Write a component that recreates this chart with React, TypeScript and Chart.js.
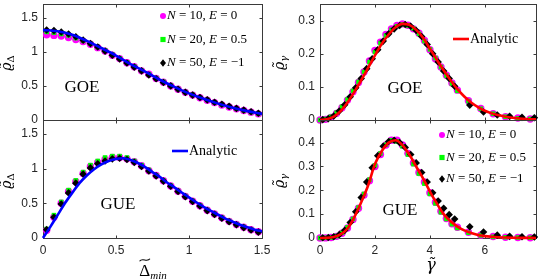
import React, { useEffect, useRef } from "react";
import { Chart, registerables } from "chart.js";

Chart.register(...registerables);

const W = 540;
const H = 280;

// ================= DATA =================
// Left panels: distribution of the smallest spacing (x = Δ̃min)
const deltaBins = [0.025, 0.075, 0.125, 0.175, 0.225, 0.275, 0.325, 0.375, 0.425, 0.475, 0.525, 0.575, 0.625, 0.675, 0.725, 0.775, 0.825, 0.875, 0.925, 0.975, 1.025, 1.075, 1.125, 1.175, 1.225, 1.275, 1.325, 1.375, 1.425, 1.475];

const goeDeltaN10 = [1.25, 1.24, 1.23, 1.21, 1.18, 1.15, 1.11, 1.06, 1.01, 0.95, 0.9, 0.84, 0.78, 0.72, 0.67, 0.61, 0.555, 0.5, 0.45, 0.405, 0.365, 0.325, 0.29, 0.255, 0.22, 0.19, 0.165, 0.14, 0.115, 0.09];
const goeDeltaN20 = [1.29, 1.28, 1.26, 1.24, 1.2, 1.16, 1.12, 1.07, 1.02, 0.96, 0.905, 0.845, 0.785, 0.725, 0.67, 0.615, 0.56, 0.505, 0.455, 0.41, 0.37, 0.33, 0.295, 0.26, 0.225, 0.195, 0.165, 0.14, 0.115, 0.095];
const goeDeltaN50 = [1.32, 1.31, 1.29, 1.26, 1.22, 1.17, 1.12, 1.07, 1.01, 0.95, 0.895, 0.835, 0.775, 0.72, 0.66, 0.605, 0.55, 0.5, 0.45, 0.405, 0.365, 0.33, 0.295, 0.26, 0.23, 0.2, 0.17, 0.145, 0.12, 0.1];
const goeDeltaAnalyticX = [0, 0.1, 0.2, 0.3, 0.4, 0.5, 0.6, 0.7, 0.8, 0.9, 1.0, 1.1, 1.2, 1.3, 1.4, 1.5];
const goeDeltaAnalytic = [1.32, 1.3, 1.25, 1.16, 1.055, 0.945, 0.82, 0.71, 0.59, 0.485, 0.39, 0.31, 0.24, 0.18, 0.13, 0.09];

const gueDeltaN10 = [0.11, 0.3, 0.5, 0.67, 0.81, 0.93, 1.03, 1.09, 1.13, 1.16, 1.16, 1.14, 1.1, 1.04, 0.97, 0.9, 0.825, 0.75, 0.675, 0.6, 0.53, 0.465, 0.4, 0.345, 0.29, 0.24, 0.195, 0.155, 0.12, 0.09];
const gueDeltaN20 = [0.13, 0.33, 0.52, 0.69, 0.83, 0.95, 1.05, 1.11, 1.16, 1.18, 1.18, 1.16, 1.11, 1.05, 0.98, 0.905, 0.83, 0.755, 0.68, 0.605, 0.535, 0.47, 0.405, 0.35, 0.295, 0.245, 0.2, 0.16, 0.125, 0.09];
const gueDeltaN50 = [0.12, 0.3, 0.49, 0.65, 0.79, 0.92, 1.01, 1.07, 1.11, 1.14, 1.15, 1.13, 1.09, 1.03, 0.965, 0.895, 0.82, 0.745, 0.67, 0.595, 0.525, 0.46, 0.395, 0.34, 0.285, 0.235, 0.19, 0.15, 0.115, 0.085];
const gueDeltaAnalyticX = [0, 0.05, 0.1, 0.15, 0.2, 0.25, 0.3, 0.35, 0.4, 0.45, 0.5, 0.55, 0.6, 0.65, 0.7, 0.75, 0.8, 0.85, 0.9, 0.95, 1.0, 1.05, 1.1, 1.15, 1.2, 1.25, 1.3, 1.35, 1.4, 1.45, 1.5];
const gueDeltaAnalytic = [0, 0.16, 0.33, 0.5, 0.65, 0.79, 0.9, 0.99, 1.06, 1.11, 1.14, 1.15, 1.125, 1.08, 1.02, 0.95, 0.88, 0.8, 0.73, 0.655, 0.585, 0.515, 0.45, 0.39, 0.335, 0.28, 0.235, 0.19, 0.155, 0.12, 0.095];

// Right panels: distribution of γ̃
const gammaBins = [0, 0.2, 0.4, 0.6, 0.8, 1.0, 1.2, 1.4, 1.6, 1.8, 2.0, 2.2, 2.4, 2.6, 2.8, 3.0, 3.2, 3.4, 3.6, 3.8, 4.0, 4.2, 4.4, 4.6, 4.8, 5.0, 5.4, 5.85, 6.3, 6.75, 7.2, 7.65];
const gammaBinsN50 = [0.1, 0.3, 0.5, 0.7, 0.9, 1.1, 1.3, 1.5, 1.7, 1.9, 2.1, 2.3, 2.5, 2.7, 2.9, 3.1, 3.3, 3.5, 3.7, 3.9, 4.1, 4.3, 4.5, 4.7, 4.9, 5.45, 5.95, 6.45, 6.9, 7.35, 7.8];

const goeGammaN10 = [0, 0.002, 0.008, 0.02, 0.037, 0.06, 0.085, 0.113, 0.145, 0.178, 0.21, 0.235, 0.258, 0.275, 0.285, 0.29, 0.286, 0.275, 0.262, 0.24, 0.212, 0.185, 0.16, 0.135, 0.112, 0.09, 0.058, 0.035, 0.019, 0.01, 0.006, 0.003];
const goeGammaN20 = [0, 0.003, 0.01, 0.022, 0.04, 0.062, 0.088, 0.115, 0.145, 0.175, 0.205, 0.232, 0.255, 0.272, 0.283, 0.288, 0.285, 0.276, 0.26, 0.238, 0.213, 0.187, 0.16, 0.134, 0.11, 0.088, 0.057, 0.034, 0.019, 0.01, 0.005, 0.003];
const goeGammaN50 = [0.001, 0.004, 0.012, 0.027, 0.046, 0.07, 0.097, 0.125, 0.155, 0.185, 0.212, 0.238, 0.26, 0.275, 0.285, 0.288, 0.283, 0.27, 0.252, 0.228, 0.2, 0.175, 0.148, 0.125, 0.102, 0.045, 0.024, 0.015, 0.011, 0.008, 0.007];

const gueGammaN10 = [0, 0.0005, 0.002, 0.007, 0.02, 0.042, 0.078, 0.125, 0.18, 0.24, 0.3, 0.35, 0.39, 0.41, 0.41, 0.39, 0.355, 0.315, 0.275, 0.235, 0.19, 0.15, 0.112, 0.082, 0.06, 0.045, 0.024, 0.012, 0.006, 0.003, 0.002, 0.001];
const gueGammaN20 = [0, 0.0006, 0.002, 0.008, 0.022, 0.045, 0.08, 0.128, 0.185, 0.245, 0.305, 0.355, 0.392, 0.41, 0.405, 0.385, 0.35, 0.31, 0.27, 0.228, 0.185, 0.145, 0.108, 0.08, 0.058, 0.042, 0.022, 0.011, 0.005, 0.003, 0.002, 0.001];
const gueGammaN50 = [0.001, 0.002, 0.005, 0.014, 0.032, 0.065, 0.11, 0.17, 0.235, 0.295, 0.345, 0.385, 0.405, 0.41, 0.4, 0.38, 0.35, 0.315, 0.275, 0.235, 0.19, 0.155, 0.125, 0.098, 0.08, 0.047, 0.025, 0.012, 0.007, 0.005, 0.004];

const gammaAnalyticX = [0, 0.25, 0.5, 0.75, 1.0, 1.25, 1.5, 1.75, 2.0, 2.25, 2.5, 2.75, 3.0, 3.25, 3.5, 3.75, 4.0, 4.25, 4.5, 4.75, 5.0, 5.25, 5.5, 5.75, 6.0, 6.25, 6.5, 6.75, 7.0, 7.5, 7.86];
const goeGammaAnalytic = [0, 0.002, 0.01, 0.027, 0.053, 0.085, 0.12, 0.157, 0.195, 0.23, 0.258, 0.28, 0.29, 0.287, 0.272, 0.248, 0.215, 0.182, 0.15, 0.12, 0.093, 0.071, 0.053, 0.039, 0.028, 0.02, 0.014, 0.01, 0.007, 0.003, 0.002];
const gueGammaAnalytic = [0, 0.0005, 0.004, 0.015, 0.04, 0.088, 0.15, 0.22, 0.31, 0.365, 0.4, 0.41, 0.39, 0.35, 0.3, 0.25, 0.195, 0.145, 0.1, 0.07, 0.048, 0.032, 0.021, 0.013, 0.008, 0.005, 0.003, 0.002, 0.001, 0.0005, 0.0002];

// Axis ticks
const deltaXTicks = [0, 0.5, 1, 1.5];
const deltaYTicks = [0, 0.5, 1, 1.5];
const gammaXTicks = [0, 2, 4, 6];
const goeGammaYTicks = [0, 0.1, 0.2, 0.3];
const gueGammaYTicks = [0, 0.1, 0.2, 0.3, 0.4];

const seriesLabels = [
  { n: "10", e: "0" },
  { n: "20", e: "0.5" },
  { n: "50", e: "\u22121" },
];

// ================= STYLE =================
const SERIF = "'Liberation Serif', 'Times New Roman', serif";
const SANS = "'Liberation Sans', Arial, Helvetica, sans-serif";
const GREEK = "'DejaVu Serif', 'Liberation Serif', serif";
const FRAME = "#3a3a3a";
const LABEL = "#262626";
const MAGENTA = "#ff00ff";
const GREEN = "#00ff00";
const BLACK = "#000000";
const BLUE = "#0000ff";
const RED = "#ff0000";

type Seg = { t: string; font: string; dy?: number; tilde?: boolean };

function drawTilde(ctx: CanvasRenderingContext2D, cx: number, cy: number, w: number) {
  ctx.save();
  ctx.strokeStyle = "#000";
  ctx.lineWidth = 1.1;
  ctx.beginPath();
  ctx.moveTo(cx - w / 2, cy + 1.2);
  ctx.bezierCurveTo(cx - w / 4, cy - 2.6, cx + w / 4, cy + 2.6, cx + w / 2, cy - 1.2);
  ctx.stroke();
  ctx.restore();
}

function drawSegs(ctx: CanvasRenderingContext2D, segs: Seg[], x: number, y: number, align: "left" | "center") {
  let total = 0;
  const ws = segs.map((s) => {
    ctx.font = s.font;
    const w = ctx.measureText(s.t).width;
    total += w;
    return w;
  });
  let cx = align === "center" ? x - total / 2 : x;
  ctx.textAlign = "left";
  segs.forEach((s, i) => {
    ctx.font = s.font;
    ctx.fillText(s.t, cx, y + (s.dy || 0));
    if (s.tilde) drawTilde(ctx, cx + ws[i] / 2, y - 16, ws[i] * 0.95);
    cx += ws[i];
  });
}

function drawMarker(ctx: CanvasRenderingContext2D, style: string, x: number, y: number, r: number, color: string) {
  ctx.fillStyle = color;
  ctx.beginPath();
  if (style === "circle") {
    ctx.arc(x, y, r, 0, Math.PI * 2);
  } else if (style === "rect") {
    ctx.rect(x - r, y - r, 2 * r, 2 * r);
  } else {
    ctx.moveTo(x, y - r * 1.25);
    ctx.lineTo(x + r, y);
    ctx.lineTo(x, y + r * 1.25);
    ctx.lineTo(x - r, y);
    ctx.closePath();
  }
  ctx.fill();
}

function legendSegs(n: string, e: string): Seg[] {
  const it = `italic 13px ${SERIF}`;
  const up = `13px ${SERIF}`;
  return [
    { t: "N", font: it },
    { t: " = " + n + ", ", font: up },
    { t: "E", font: it },
    { t: " = " + e, font: up },
  ];
}

type PanelCfg = {
  area: { l: number; t: number; r: number; b: number };
  xMax: number;
  yMax: number;
  xTicks: number[];
  yTicks: number[];
  showX: boolean;
  datasets: any[];
  label: { text: string; x: number; y: number };
  markerLegend?: { x: number; ys: number[] };
  lineLegend?: { x1: number; x2: number; y: number; color: string };
  yTitle: { sub: string; subItalic: boolean; x: number; y: number };
  xTitle?: { segs: Seg[]; x: number; y: number };
};

function pts(xs: number[], ys: number[]) {
  return xs.map((x, i) => ({ x, y: ys[i] }));
}

function markerSets(xA: number[], a: number[], xB: number[], b: number[], xC: number[], c: number[]) {
  return [
    { label: "N=50", data: pts(xC, c), pointStyle: "rectRot", pointRadius: 3.8, backgroundColor: BLACK, borderColor: BLACK, borderWidth: 0, showLine: false, clip: false },
    { label: "N=20", data: pts(xB, b), pointStyle: "rect", pointRadius: 3.2, backgroundColor: GREEN, borderColor: GREEN, borderWidth: 0, showLine: false, clip: false },
    { label: "N=10", data: pts(xA, a), pointStyle: "circle", pointRadius: 3.7, backgroundColor: MAGENTA, borderColor: MAGENTA, borderWidth: 0, showLine: false, clip: false },
  ];
}

function lineSet(xs: number[], ys: number[], color: string) {
  return {
    label: "Analytic",
    data: pts(xs, ys),
    showLine: true,
    pointRadius: 0,
    borderColor: color,
    backgroundColor: color,
    borderWidth: 2.6,
    cubicInterpolationMode: "monotone",
    clip: false,
  };
}

const fmt = (v: number) => String(Math.round(v * 1000) / 1000);

function makeChart(canvas: HTMLCanvasElement, cfg: PanelCfg) {
  const yW = 40;
  const xH = cfg.showX ? 24 : 0;
  const plugin = {
    id: "panelDecor",
    beforeDatasetsDraw(chart: any) {
      const { ctx, chartArea: a, scales } = chart;
      ctx.save();
      ctx.strokeStyle = FRAME;
      ctx.lineWidth = 1;
      const L = Math.round(a.left) + 0.5;
      const R = Math.round(a.right) + 0.5;
      const T = Math.round(a.top) + 0.5;
      const B = Math.round(a.bottom) + 0.5;
      ctx.strokeRect(L, T, R - L, B - T);
      const tl = 3;
      ctx.beginPath();
      cfg.xTicks.forEach((v) => {
        const px = Math.round(scales.x.getPixelForValue(v)) + 0.5;
        ctx.moveTo(px, B);
        ctx.lineTo(px, B - tl);
        ctx.moveTo(px, T);
        ctx.lineTo(px, T + tl);
      });
      cfg.yTicks.forEach((v) => {
        const py = Math.round(scales.y.getPixelForValue(v)) + 0.5;
        ctx.moveTo(L, py);
        ctx.lineTo(L + tl, py);
        ctx.moveTo(R, py);
        ctx.lineTo(R - tl, py);
      });
      ctx.stroke();
      ctx.restore();
    },
    afterDraw(chart: any) {
      const ctx: CanvasRenderingContext2D = chart.ctx;
      ctx.save();
      ctx.fillStyle = "#000";
      ctx.textBaseline = "middle";
      drawSegs(ctx, [{ t: cfg.label.text, font: `17px ${SERIF}` }], cfg.label.x, cfg.label.y, "center");
      if (cfg.markerLegend) {
        const styles = ["circle", "rect", "diamond"];
        const colors = [MAGENTA, GREEN, BLACK];
        const sizes = [3, 2.6, 3];
        cfg.markerLegend.ys.forEach((y, i) => {
          drawMarker(ctx, styles[i], cfg.markerLegend!.x, y, sizes[i], colors[i]);
          ctx.fillStyle = "#000";
          drawSegs(ctx, legendSegs(seriesLabels[i].n, seriesLabels[i].e), cfg.markerLegend!.x + 4, y, "left");
        });
      }
      if (cfg.lineLegend) {
        const lg = cfg.lineLegend;
        ctx.strokeStyle = lg.color;
        ctx.lineWidth = 2.6;
        ctx.beginPath();
        ctx.moveTo(lg.x1, lg.y);
        ctx.lineTo(lg.x2, lg.y);
        ctx.stroke();
        ctx.fillStyle = "#000";
        drawSegs(ctx, [{ t: "Analytic", font: `14px ${SERIF}` }], lg.x2 + 1, lg.y, "left");
      }
      ctx.save();
      ctx.translate(cfg.yTitle.x, cfg.yTitle.y);
      ctx.rotate(-Math.PI / 2);
      ctx.textBaseline = "alphabetic";
      ctx.fillStyle = "#000";
      drawSegs(
        ctx,
        [
          { t: "\u03F1\u0303", font: `italic 14px ${GREEK}` },
          { t: cfg.yTitle.sub, font: `${cfg.yTitle.subItalic ? "italic " : ""}10px ${GREEK}`, dy: 3 },
        ],
        0,
        0,
        "center"
      );
      ctx.restore();
      if (cfg.xTitle) {
        ctx.textBaseline = "alphabetic";
        ctx.fillStyle = "#000";
        drawSegs(ctx, cfg.xTitle.segs, cfg.xTitle.x, cfg.xTitle.y, "center");
      }
      ctx.restore();
    },
  };

  return new Chart(canvas, {
    type: "scatter",
    data: { datasets: cfg.datasets },
    options: {
      responsive: false,
      maintainAspectRatio: false,
      animation: false,
      devicePixelRatio: 1,
      events: [],
      layout: {
        padding: {
          left: cfg.area.l - yW,
          top: cfg.area.t,
          right: W - cfg.area.r,
          bottom: H - cfg.area.b - xH,
        },
      },
      plugins: { legend: { display: false }, tooltip: { enabled: false } },
      scales: {
        x: {
          type: "linear",
          position: "bottom",
          min: 0,
          max: cfg.xMax,
          grid: { display: false, drawTicks: false },
          border: { display: false },
          ticks: {
            display: cfg.showX,
            padding: 5,
            color: LABEL,
            font: { family: SANS, size: 12 },
            maxRotation: 0,
            autoSkip: false,
            callback: (v: any) => fmt(Number(v)),
          },
          afterBuildTicks: (s: any) => {
            s.ticks = cfg.xTicks.map((v) => ({ value: v }));
          },
          afterFit: (s: any) => {
            s.height = xH;
            s.paddingLeft = 0;
            s.paddingRight = 0;
            s.paddingTop = 0;
            s.paddingBottom = 0;
          },
        },
        y: {
          type: "linear",
          position: "left",
          min: 0,
          max: cfg.yMax,
          grid: { display: false, drawTicks: false },
          border: { display: false },
          ticks: {
            padding: 5,
            color: LABEL,
            font: { family: SANS, size: 12 },
            autoSkip: false,
            callback: (v: any) => fmt(Number(v)),
          },
          afterBuildTicks: (s: any) => {
            s.ticks = cfg.yTicks.map((v) => ({ value: v }));
          },
          afterFit: (s: any) => {
            s.width = yW;
            s.paddingLeft = 0;
            s.paddingRight = 0;
            s.paddingTop = 0;
            s.paddingBottom = 0;
          },
        },
      },
    } as any,
    plugins: [plugin],
  });
}

const panels: PanelCfg[] = [
  {
    area: { l: 43, t: 1, r: 262, b: 120 },
    xMax: 1.5,
    yMax: 1.7,
    xTicks: deltaXTicks,
    yTicks: deltaYTicks,
    showX: false,
    datasets: [lineSet(goeDeltaAnalyticX, goeDeltaAnalytic, BLUE), ...markerSets(deltaBins, goeDeltaN10, deltaBins, goeDeltaN20, deltaBins, goeDeltaN50)],
    label: { text: "GOE", x: 82, y: 88 },
    markerLegend: { x: 163, ys: [16, 39.5, 63] },
    yTitle: { sub: "\u0394", subItalic: false, x: 11, y: 63 },
  },
  {
    area: { l: 43, t: 120, r: 262, b: 238 },
    xMax: 1.5,
    yMax: 1.7,
    xTicks: deltaXTicks,
    yTicks: deltaYTicks,
    showX: true,
    datasets: [lineSet(gueDeltaAnalyticX, gueDeltaAnalytic, BLUE), ...markerSets(deltaBins, gueDeltaN10, deltaBins, gueDeltaN20, deltaBins, gueDeltaN50)],
    label: { text: "GUE", x: 118, y: 205 },
    lineLegend: { x1: 172, x2: 188, y: 151, color: BLUE },
    yTitle: { sub: "\u0394", subItalic: false, x: 11, y: 181 },
    xTitle: {
      segs: [
        { t: "\u0394", font: `17px ${SERIF}`, tilde: true },
        { t: "min", font: `italic 11px ${SERIF}`, dy: 3 },
      ],
      x: 153,
      y: 276,
    },
  },
  {
    area: { l: 320, t: 1, r: 536, b: 120 },
    xMax: 7.86,
    yMax: 0.35,
    xTicks: gammaXTicks,
    yTicks: goeGammaYTicks,
    showX: false,
    datasets: [lineSet(gammaAnalyticX, goeGammaAnalytic, RED), ...markerSets(gammaBins, goeGammaN10, gammaBins, goeGammaN20, gammaBinsN50, goeGammaN50)],
    label: { text: "GOE", x: 405, y: 89 },
    lineLegend: { x1: 453, x2: 469, y: 39, color: RED },
    yTitle: { sub: "\u03B3", subItalic: true, x: 284, y: 63 },
  },
  {
    area: { l: 320, t: 120, r: 536, b: 238 },
    xMax: 7.86,
    yMax: 0.495,
    xTicks: gammaXTicks,
    yTicks: gueGammaYTicks,
    showX: true,
    datasets: [lineSet(gammaAnalyticX, gueGammaAnalytic, RED), ...markerSets(gammaBins, gueGammaN10, gammaBins, gueGammaN20, gammaBinsN50, gueGammaN50)],
    label: { text: "GUE", x: 400, y: 211 },
    markerLegend: { x: 442, ys: [135, 157.5, 179] },
    yTitle: { sub: "\u03B3", subItalic: true, x: 284, y: 181 },
    xTitle: {
      segs: [{ t: "\u03B3\u0303", font: `italic 16px ${GREEK}` }],
      x: 431,
      y: 270,
    },
  },
];

export default function App() {
  const refs = [useRef<HTMLCanvasElement>(null), useRef<HTMLCanvasElement>(null), useRef<HTMLCanvasElement>(null), useRef<HTMLCanvasElement>(null)];

  useEffect(() => {
    document.body.style.margin = "0";
    const charts = panels.map((cfg, i) => makeChart(refs[i].current as HTMLCanvasElement, cfg));
    return () => charts.forEach((c) => c.destroy());
  }, []);

  return (
    <div style={{ position: "fixed", left: 0, top: 0, width: W, height: H, background: "#fff", overflow: "hidden" }}>
      {refs.map((r, i) => (
        <canvas
          key={i}
          ref={r}
          width={W}
          height={H}
          style={{ position: "absolute", left: 0, top: 0, width: W, height: H }}
        />
      ))}
    </div>
  );
}
